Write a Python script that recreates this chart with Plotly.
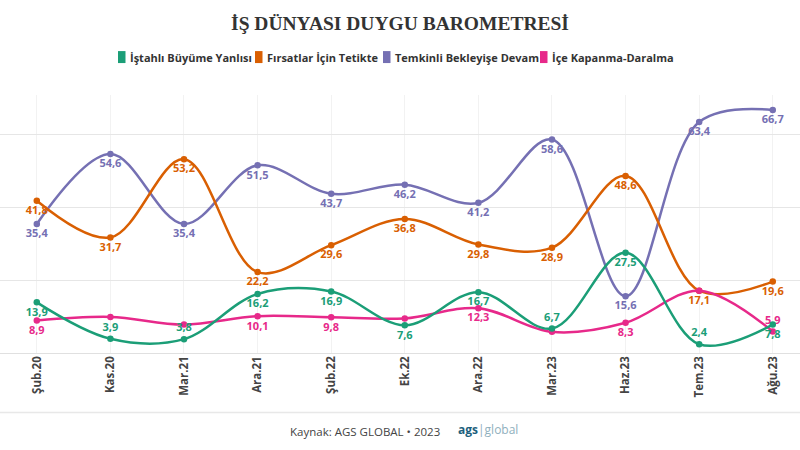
import plotly.graph_objects as go

categories = ["Şub.20", "Kas.20", "Mar.21", "Ara.21", "Şub.22", "Ek.22",
              "Ara.22", "Mar.23", "Haz.23", "Tem.23", "Ağu.23"]
growth = [13.9, 3.9, 3.8, 16.2, 16.9, 7.6, 16.7, 6.7, 27.5, 2.4, 7.8]
opportunity = [41.8, 31.7, 53.2, 22.2, 29.6, 36.8, 29.8, 28.9, 48.6, 17.1, 19.6]
cautious = [35.4, 54.6, 35.4, 51.5, 43.7, 46.2, 41.2, 58.6, 15.6, 63.4, 66.7]
contraction = [8.9, 9.9, 7.8, 10.1, 9.8, 9.5, 12.3, 5.8, 8.3, 17.1, 5.9]
contraction_labelled = [True, False, False, True, True, False, True, False, True, False, True]

series_names = ["İştahlı Büyüme Yanlısı", "Fırsatlar İçin Tetikte",
                "Temkinli Bekleyişe Devam", "İçe Kapanma-Daralma"]
colors = ["#1b9e77", "#d95f02", "#7570b3", "#e7298a"]

B, T = "bottom center", "top center"
growth_pos = [B, T, T, B, B, B, B, T, B, T, B]
opp_pos = [B] * 11
caut_pos = [B] * 11
contr_pos = [B, B, B, B, B, B, B, B, B, B, T]


def fmt(v):
    return f"{v:.1f}".replace(".", ",")


growth_txt = [fmt(v) for v in growth]
opp_txt = [fmt(v) for v in opportunity]
caut_txt = [fmt(v) for v in cautious]
contr_txt = [fmt(v) if s else "" for v, s in zip(contraction, contraction_labelled)]

W, H = 800, 450
PLOT_TOP, PLOT_BOTTOM = 95, 353.5


def py(pix):
    return (PLOT_BOTTOM - pix) / (PLOT_BOTTOM - PLOT_TOP)


fig = go.Figure()
order = [
    (cautious, caut_txt, caut_pos, 2),
    (opportunity, opp_txt, opp_pos, 1),
    (contraction, contr_txt, contr_pos, 3),
    (growth, growth_txt, growth_pos, 0),
]
for vals, txt, pos, i in order:
    fig.add_trace(go.Scatter(
        x=categories, y=vals, name=series_names[i],
        mode="lines+markers+text",
        line=dict(color=colors[i], width=2.5, shape="spline", smoothing=1),
        marker=dict(color=colors[i], size=6.5),
        text=txt, textposition=pos,
        textfont=dict(family="Open Sans", size=11, color=colors[i], weight=700),
        cliponaxis=False, showlegend=False, hoverinfo="x+y",
    ))

fig.update_layout(
    width=W, height=H,
    margin=dict(l=0, r=0, t=PLOT_TOP, b=H - PLOT_BOTTOM),
    paper_bgcolor="white", plot_bgcolor="white",
    title=dict(text="<b>İŞ DÜNYASI DUYGU BAROMETRESİ</b>", x=0.5, xanchor="center",
               y=1 - 23 / H, yanchor="middle",
               font=dict(family="Liberation Serif", size=19.5, color="#333333")),
    xaxis=dict(type="category", range=[-0.5, 10.37], tickangle=-90,
               showgrid=True, gridcolor="#f2f2f2", gridwidth=1,
               showline=False, zeroline=False, ticks="",
               tickfont=dict(family="Open Sans", size=11.5, color="#444444", weight=700)),
    yaxis=dict(range=[0, 70.8], dtick=20, showticklabels=False,
               showgrid=True, gridcolor="#e6e6e6", gridwidth=1,
               zeroline=True, zerolinecolor="#e0e0e0", zerolinewidth=1, ticks=""),
    showlegend=False,
)

# legend built from shapes + text
legend_x = [118, 255, 383, 540]
for i, lx in enumerate(legend_x):
    fig.add_shape(type="rect", xref="paper", yref="paper",
                  x0=lx / W, x1=(lx + 7.5) / W, y0=py(63), y1=py(51),
                  fillcolor=colors[i], line=dict(width=0), layer="above")
    fig.add_annotation(xref="paper", yref="paper", x=(lx + 9.5) / W, y=py(57),
                       xanchor="left", yanchor="middle", showarrow=False,
                       text=series_names[i],
                       font=dict(family="Open Sans", size=11, color="#333333", weight=700))

# bottom separator
fig.add_shape(type="line", xref="paper", yref="paper", x0=0, x1=1,
              y0=py(413), y1=py(413), line=dict(color="#e8e8e8", width=1.5))

fig.add_annotation(xref="paper", yref="paper", x=365 / W, y=py(432),
                   xanchor="center", yanchor="middle", showarrow=False,
                   text="Kaynak: AGS GLOBAL • 2023",
                   font=dict(family="Open Sans", size=11.5, color="#444444"))
fig.add_annotation(xref="paper", yref="paper", x=456 / W, y=py(430),
                   xanchor="left", yanchor="middle", showarrow=False,
                   text="<b>ags</b><span style='color:#8fb0bd'>|global</span>",
                   font=dict(family="Open Sans", size=12, color="#1d5f7d"))

fig.write_html("out.html", config={"displayModeBar": False},
               post_script="document.body.style.margin='0';")
